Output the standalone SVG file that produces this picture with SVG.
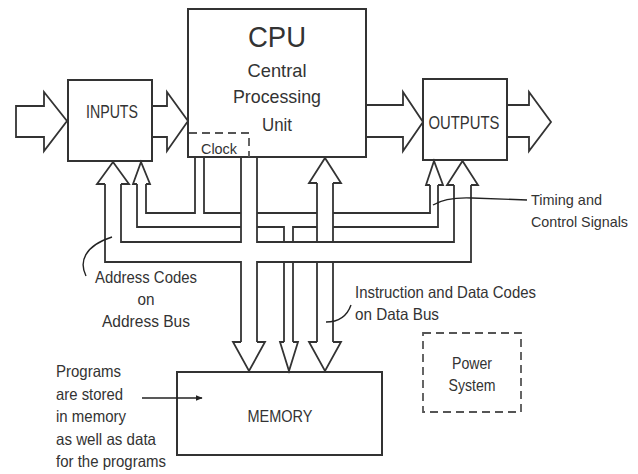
<svg xmlns="http://www.w3.org/2000/svg" width="638" height="474" viewBox="0 0 638 474">
<style>
  .box{fill:#fff;stroke:#333;stroke-width:2}
  .ln{fill:none;stroke:#333;stroke-width:1.8;stroke-linejoin:miter}
  .dash{fill:none;stroke:#555;stroke-width:1.8;stroke-dasharray:8 5}
  .lead{fill:none;stroke:#222;stroke-width:1.4}
  text{font-family:"Liberation Sans",Arial,sans-serif;fill:#333}
  .t16{font-size:16.5px}
  .t15{font-size:15px}
  .mid{text-anchor:middle}
</style>
<defs>
  <marker id="ah" viewBox="0 0 10 10" refX="9" refY="5" markerWidth="7" markerHeight="7" markerUnits="userSpaceOnUse" orient="auto">
    <path d="M0,1 L10,5 L0,9 Z" fill="#222"/>
  </marker>
</defs>
<rect width="638" height="474" fill="#fff"/>

<g id="cpu">
  <rect class="box" x="188" y="9" width="178" height="148"/>
  <text class="mid" x="277" y="47" font-size="30" textLength="58" lengthAdjust="spacingAndGlyphs">CPU</text>
  <text class="mid" x="277" y="77" font-size="19" textLength="59" lengthAdjust="spacingAndGlyphs">Central</text>
  <text class="mid" x="277" y="103" font-size="19" textLength="88" lengthAdjust="spacingAndGlyphs">Processing</text>
  <text class="mid" x="277" y="131" font-size="19" textLength="30" lengthAdjust="spacingAndGlyphs">Unit</text>
</g>
<g id="clock">
  <path class="dash" d="M189,133 H249 V157"/>
  <text x="201" y="154" font-size="15" textLength="36" lengthAdjust="spacingAndGlyphs">Clock</text>
</g>
<g id="inputs">
  <rect class="box" x="68" y="80" width="84" height="81"/>
  <text class="mid" x="112" y="118" font-size="18" textLength="52" lengthAdjust="spacingAndGlyphs">INPUTS</text>
</g>
<g id="outputs">
  <rect class="box" x="423" y="79" width="84" height="81"/>
  <text class="mid" x="464" y="129" font-size="18" textLength="71" lengthAdjust="spacingAndGlyphs">OUTPUTS</text>
</g>
<g id="memory">
  <rect class="box" x="177" y="372" width="205" height="83"/>
  <text class="mid" x="280" y="422" font-size="16.5" textLength="65" lengthAdjust="spacingAndGlyphs">MEMORY</text>
</g>
<g id="power">
  <rect class="dash" x="423" y="333" width="98" height="79"/>
  <text class="mid t16" x="472" y="369" textLength="40" lengthAdjust="spacingAndGlyphs">Power</text>
  <text class="mid t16" x="472" y="391" textLength="47" lengthAdjust="spacingAndGlyphs">System</text>
</g>

<g id="connectors">
  <!-- big horizontal block arrows -->
  <path class="ln" d="M16,106 H44 V92 L67,121 L44,151 V137 H16 Z"/>
  <path class="ln" d="M152,106 H167 V92 L188,121 L167,151 V137 H152"/>
  <path class="ln" d="M366,105 H403 V92 L423,122 L403,151 V137 H366"/>
  <path class="ln" d="M507,105 H529 V92 L551,122 L529,151 V137 H507"/>

  <!-- control bus (timing and control) -->
  <path class="ln" d="M146,184 V213 H195 V157"/>
  <path class="ln" d="M137,184 V227 H241"/>
  <path class="ln" d="M204,157 V213 H241"/>
  <path class="ln" d="M257,213 H317"/>
  <path class="ln" d="M333,213 H430 V185"/>
  <path class="ln" d="M257,227 H284 V242"/>
  <path class="ln" d="M293,242 V227 H317"/>
  <path class="ln" d="M333,227 H438 V185"/>
  <path class="ln" d="M284,262 V342 M293,262 V342"/>
  <path class="ln" d="M137,184 H133 L141,162 L150,184 H146"/>
  <path class="ln" d="M430,185 H426 L434,161 L443,185 H438"/>
  <path class="ln" d="M284,342 H280 L289,371 L298,342 H293"/>

  <!-- address bus -->
  <path class="ln" d="M241,157 V242 H121 V184"/>
  <path class="ln" d="M257,157 V242 H454 V185"/>
  <path class="ln" d="M105,184 V262 H241 V342"/>
  <path class="ln" d="M471,185 V262 H257 V342"/>
  <path class="ln" d="M105,184 H97 L113,162 L129,184 H121"/>
  <path class="ln" d="M454,185 H447 L462.5,161 L478,185 H471"/>
  <path class="ln" d="M241,342 H233 L249,371 L265,342 H257"/>

  <!-- data bus -->
  <path class="ln" d="M317,183 V242 M333,183 V242 M317,262 V342 M333,262 V342"/>
  <path class="ln" d="M317,183 H309 L325,158 L341,183 H333"/>
  <path class="ln" d="M317,342 H309 L325,371 L341,342 H333"/>

  <!-- leaders -->
  <path class="lead" d="M433,205 Q446,197 472,198 L527,200"/>
  <path class="lead" d="M86,276 C79,262 84,246 112,237"/>
  <path class="lead" d="M326,322 Q345,322 351,305"/>
  <path class="lead" d="M142,398 H202" marker-end="url(#ah)"/>
</g>

<g id="labels">
  <text class="mid t16" x="146" y="283" textLength="102" lengthAdjust="spacingAndGlyphs">Address Codes</text>
  <text class="mid t16" x="146" y="305" textLength="17" lengthAdjust="spacingAndGlyphs">on</text>
  <text class="mid t16" x="146" y="327" textLength="88" lengthAdjust="spacingAndGlyphs">Address Bus</text>
  <text class="t16" x="355" y="298" textLength="181" lengthAdjust="spacingAndGlyphs">Instruction and Data Codes</text>
  <text class="t16" x="355" y="320" textLength="84" lengthAdjust="spacingAndGlyphs">on Data Bus</text>
  <text class="t15" x="531" y="205" textLength="71" lengthAdjust="spacingAndGlyphs">Timing and</text>
  <text class="t15" x="531" y="227" textLength="97" lengthAdjust="spacingAndGlyphs">Control Signals</text>
  <text class="t16" x="56" y="377" textLength="65" lengthAdjust="spacingAndGlyphs">Programs</text>
  <text class="t16" x="56" y="400" textLength="67" lengthAdjust="spacingAndGlyphs">are stored</text>
  <text class="t16" x="56" y="422" textLength="70" lengthAdjust="spacingAndGlyphs">in memory</text>
  <text class="t16" x="56" y="445" textLength="100" lengthAdjust="spacingAndGlyphs">as well as data</text>
  <text class="t16" x="56" y="467" textLength="110" lengthAdjust="spacingAndGlyphs">for the programs</text>
</g>
</svg>
